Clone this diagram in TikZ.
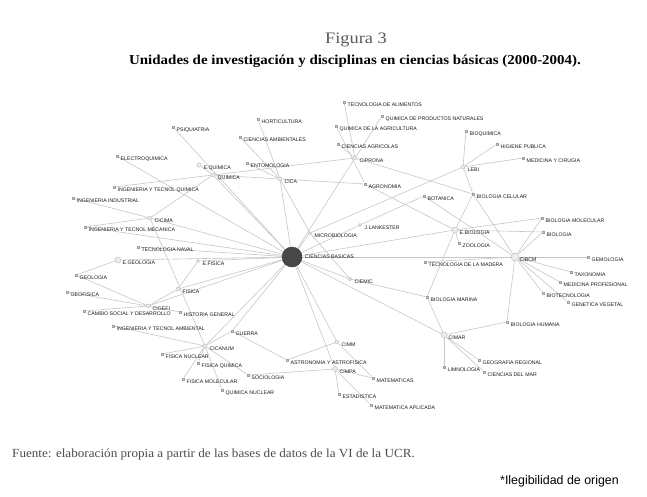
\documentclass[tikz,border=0pt]{standalone}
\usepackage{graphicx}
\usepackage{fontspec}
\setmainfont{Liberation Serif}
\newfontfamily\labfont{Liberation Sans}
\usetikzlibrary{backgrounds}
\tikzset{
  disc/.style={rectangle, draw=gray!75, fill=gray!35, line width=0.3pt, minimum size=2.6pt, inner sep=0pt},
  unit/.style={circle, draw=gray!55, fill=gray!15, line width=0.4pt, minimum size=4pt, inner sep=0pt},
  lab/.style={anchor=west, font=\labfont\fontsize{5.2}{6}\selectfont, text=black!90, inner sep=0pt},
  edge/.style={draw=gray!45, line width=0.6pt},
}
\newcommand\dn[4]{\node[disc] (#1) at (#2,#3) {}; \node[lab] at (#2+3.5,#3+3.2) {#4};}
\newcommand\un[5]{\node[unit, minimum size=#5] (#1) at (#2,#3) {}; \node[lab] at (#2+4.5,#3+3) {#4};}
\begin{document}
\begin{tikzpicture}[x=1pt,y=-1pt]
\useasboundingbox (0,0) rectangle (647,497);
% titles
\node[font=\fontsize{16}{18}\selectfont, text=black!65, inner sep=0pt] (fig) at (356,40) {\scalebox{1.15}[1]{Figura 3}};
\node[font=\bfseries\fontsize{13.6}{15}\selectfont, inner sep=0pt] (tit) at (355,61) {\scalebox{1.1}[1]{Unidades de investigación y disciplinas en ciencias básicas (2000-2004).}};
\node[anchor=west, font=\fontsize{12.4}{14}\selectfont, text=black!70, inner sep=0pt] (src) at (12,455) {\scalebox{1.06}[1]{Fuente: elaboración propia a partir de las bases de datos de la VI de la UCR.}};
\node[anchor=west, font=\labfont\fontsize{12.4}{14}\selectfont, inner sep=0pt] (ileg) at (500,481) {*Ilegibilidad de origen};
% central node
\node[circle, fill=black!72, draw=black!80, minimum size=20pt, inner sep=0pt] (CB) at (292,257) {};
\node[lab] at (305,256.5) {CIENCIAS BASICAS};
% units
\un{EQUIM}{199}{165}{E.QUIMICA}{4.5pt}
\un{QUIM}{213}{175}{QUIMICA}{4pt}
\un{CICA}{280}{179}{CICA}{4pt}
\un{CIPRONA}{355}{158}{CIPRONA}{4pt}
\un{LEBI}{463}{167}{LEBI}{4pt}
\un{EBIO}{455}{230}{E.BIOLOGIA}{6pt}
\un{CIBCM}{515}{257}{CIBCM}{8pt}
\un{CIMAR}{444}{335}{CIMAR}{6pt}
\un{CIMPA}{335}{369}{CIMPA}{5pt}
\un{CIMM}{337}{342}{CIMM}{4pt}
\un{CICANUM}{205}{346}{CICANUM}{4pt}
\un{CIGEFI}{148}{306}{CIGEFI}{4pt}
\un{FISICA}{178}{289}{FISICA}{4pt}
\un{CICIMA}{150}{218}{CICIMA}{4pt}
\un{EGEO}{118}{260}{E.GEOLOGIA}{6pt}
\un{EFIS}{198}{261}{E.FISICA}{3pt}
\un{JLANK}{360}{225}{J.LANKESTER}{3pt}
\un{MICRO}{310}{233}{MICROBIOLOGIA}{3pt}
\un{CIEMIC}{350}{279}{CIEMIC}{3.5pt}
% disciplines
\dn{PSIQ}{173}{127}{PSIQUIATRIA}
\dn{HORT}{258}{119}{HORTICULTURA}
\dn{CAMB}{240}{137}{CIENCIAS AMBIENTALES}
\dn{ENTO}{247}{163}{ENTOMOLOGIA}
\dn{ELEC}{117}{156}{ELECTROQUIMICA}
\dn{IQUIM}{114}{187}{INGENIERIA Y TECNOL QUIMICA}
\dn{IIND}{73}{198}{INGENIERIA INDUSTRIAL}
\dn{IMEC}{85}{227}{INGENIERIA Y TECNOL MECANICA}
\dn{TNAV}{138}{247}{TECNOLOGIA NAVAL}
\dn{GEOL}{76}{275}{GEOLOGIA}
\dn{GEOF}{67}{292}{GEOFISICA}
\dn{CSOC}{84}{311}{CAMBIO SOCIAL Y DESARROLLO}
\dn{HIST}{180}{312}{HISTORIA GENERAL}
\dn{IAMB}{113}{326}{INGENIERIA Y TECNOL AMBIENTAL}
\dn{GUER}{232}{331}{GUERRA}
\dn{FNUC}{162}{354}{FISICA NUCLEAR}
\dn{FQUI}{198}{363}{FISICA QUIMICA}
\dn{FMOL}{183}{379}{FISICA MOLECULAR}
\dn{QNUC}{222}{390}{QUIMICA NUCLEAR}
\dn{SOC}{248}{375}{SOCIOLOGIA}
\dn{ASTR}{287}{360}{ASTRONOMIA Y ASTROFISICA}
\dn{MAT}{373}{378}{MATEMATICAS}
\dn{EST}{339}{394}{ESTADISTICA}
\dn{MAPL}{371}{405}{MATEMATICA APLICADA}
\dn{TALI}{344}{102}{TECNOLOGIA DE ALIMENTOS}
\dn{QPN}{382}{116}{QUIMICA DE PRODUCTOS NATURALES}
\dn{QAGR}{336}{126}{QUIMICA DE LA AGRICULTURA}
\dn{CAGR}{338}{144}{CIENCIAS AGRICOLAS}
\dn{AGRO}{365}{184}{AGRONOMIA}
\dn{BOT}{424}{196}{BOTANICA}
\dn{BIOQ}{466}{131}{BIOQUIMICA}
\dn{HIG}{497}{144}{HIGIENE PUBLICA}
\dn{MEDC}{523}{158}{MEDICINA Y CIRUGIA}
\dn{BCEL}{473}{194}{BIOLOGIA CELULAR}
\dn{BMOL}{542}{218}{BIOLOGIA MOLECULAR}
\dn{BIOL}{543}{232}{BIOLOGIA}
\dn{ZOO}{459}{243}{ZOOLOGIA}
\dn{GENO}{588}{257}{GEMOLOGIA}
\dn{TAX}{571}{272}{TAXONOMIA}
\dn{MPRO}{560}{282}{MEDICINA PROFESIONAL}
\dn{BTEC}{543}{293}{BIOTECNOLOGIA}
\dn{GVEG}{568}{302}{GENETICA VEGETAL}
\dn{TMAD}{425}{262}{TECNOLOGIA DE LA MADERA}
\dn{BMAR}{427}{297}{BIOLOGIA MARINA}
\dn{BHUM}{507}{322}{BIOLOGIA HUMANA}
\dn{GEOR}{479}{360}{GEOGRAFIA REGIONAL}
\dn{LIMN}{444}{367}{LIMNOLOGIA}
\dn{CMAR}{484}{372}{CIENCIAS DEL MAR}
% edges
\begin{scope}[on background layer]
\foreach \a/\b in {CB/PSIQ, CB/QUIM, CB/CICA, CB/CIPRONA, CB/MICRO, CB/JLANK, CB/EBIO, CB/CIBCM,
  CB/CIEMIC, CB/CIMAR, CB/CIMM, CB/CIMPA, CB/CICANUM, CB/GUER, CB/CIGEFI, CB/FISICA, CB/EFIS,
  CB/EGEO, CB/TNAV, CB/CICIMA, CB/ELEC, CB/IMEC,
  CICA/HORT, CICA/CAMB, CICA/ENTO, CICA/QUIM, CICA/AGRO, CICA/MICRO,
  CIPRONA/TALI, CIPRONA/QPN, CIPRONA/CAGR, CIPRONA/QUIM, CIPRONA/BCEL, QAGR/AGRO, AGRO/EBIO,
  JLANK/BOT, BOT/CIBCM, LEBI/BIOQ, LEBI/HIG, LEBI/MEDC, LEBI/BCEL, LEBI/MICRO,
  BCEL/EBIO, BCEL/CIBCM,
  EBIO/BMOL, EBIO/BIOL, EBIO/ZOO, EBIO/BMAR,
  CIBCM/BMOL, CIBCM/BIOL, CIBCM/GENO, CIBCM/TAX, CIBCM/MPRO, CIBCM/BTEC, CIBCM/GVEG, CIBCM/BHUM, CIBCM/TMAD,
  CIMAR/BMAR, CIMAR/BHUM, CIMAR/GEOR, CIMAR/LIMN, CIMAR/CMAR,
  CIEMIC/MICRO, CIEMIC/BMAR,
  CIMM/ASTR, CIMM/MAT, CIMPA/EST, CIMPA/MAPL, CIMPA/MAT, CIMPA/SOC, ASTR/GUER,
  CICANUM/FNUC, CICANUM/FQUI, CICANUM/FMOL, CICANUM/QNUC, CICANUM/IAMB, CICANUM/CICIMA, CICANUM/SOC, CICANUM/GUER,
  CIGEFI/GEOF, CIGEFI/GEOL, CIGEFI/CSOC, CIGEFI/HIST, CIGEFI/FISICA,
  GEOL/EGEO, FISICA/EFIS,
  CICIMA/IIND, CICIMA/IMEC, CICIMA/QUIM, IQUIM/QUIM, EQUIM/QUIM}
  \draw[edge] (\a) -- (\b);
\end{scope}
\end{tikzpicture}
\end{document}
